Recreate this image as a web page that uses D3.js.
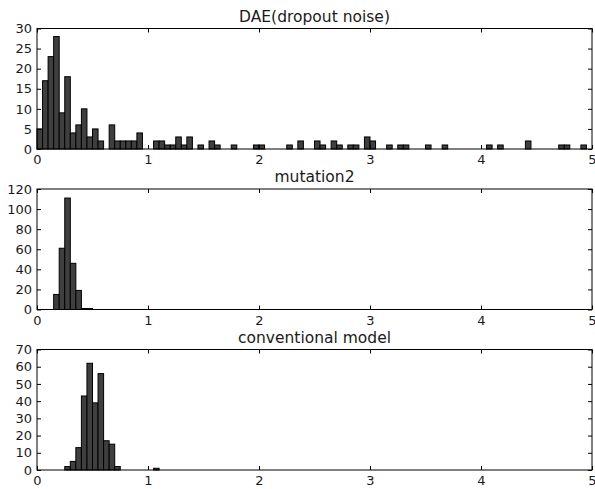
<!DOCTYPE html>
<html>
<head>
<meta charset="utf-8">
<script src="https://cdn.jsdelivr.net/npm/d3@7"></script>
<style>
  html, body { margin: 0; padding: 0; background: #fff; }
  svg { display: block; }
  text { font-family: "DejaVu Sans", sans-serif; fill: #1a1a1a; }
</style>
</head>
<body>
<svg id="chart" width="595" height="489"></svg>
<script>
// ---- Data ----
const binWidth = 0.05;
const xTicks = [0, 1, 2, 3, 4, 5];

const titles = ["DAE(dropout noise)", "mutation2", "conventional model"];

// counts per bin, bin i covers [i*0.05, (i+1)*0.05)
const daeCounts = [
  5, 17, 23, 28, 9, 18, 4, 6, 10, 3,
  5, 2, 0, 6, 2, 2, 2, 2, 4, 0,
  0, 2, 2, 1, 1, 3, 1, 3, 0, 1,
  0, 2, 1, 0, 0, 1, 0, 0, 0, 1,
  1, 0, 0, 0, 0, 1, 0, 2, 0, 0,
  2, 1, 0, 2, 1, 0, 1, 1, 0, 3,
  2, 0, 0, 1, 0, 1, 1, 0, 0, 0,
  1, 0, 0, 1, 0, 0, 0, 0, 0, 0,
  0, 1, 0, 1, 0, 0, 0, 0, 2, 0,
  0, 0, 0, 0, 1, 1, 0, 0, 1, 0
];
const mutationCounts = [0, 0, 0, 15, 61, 111, 46, 19, 1, 1];
const conventionalCounts = [
  0, 0, 0, 0, 0, 2, 5, 13, 43, 62,
  39, 56, 17, 15, 2, 0, 0, 0, 0, 0,
  0, 1
];

const yTicksDae = [0, 5, 10, 15, 20, 25, 30];
const yTicksMutation = [0, 20, 40, 60, 80, 100, 120];
const yTicksConventional = [0, 10, 20, 30, 40, 50, 60, 70];

const panels = [
  { title: titles[0], counts: daeCounts, yTicks: yTicksDae },
  { title: titles[1], counts: mutationCounts, yTicks: yTicksMutation },
  { title: titles[2], counts: conventionalCounts, yTicks: yTicksConventional }
];

// ---- Layout ----
const svg = d3.select("#chart");
const left = 37, right = 592;
const panelTop0 = 28.5, panelStep = 160.5, panelH = 120.5;

const x = d3.scaleLinear().domain([0, 5]).range([left, right]);

panels.forEach((p, i) => {
  const top = panelTop0 + i * panelStep;
  const bottom = top + panelH;
  const yMax = p.yTicks[p.yTicks.length - 1];
  const y = d3.scaleLinear().domain([0, yMax]).range([bottom, top]);
  const g = svg.append("g");

  const bins = p.counts.map((c, k) => ({ x0: k * binWidth, x1: (k + 1) * binWidth, c }))
    .filter(d => d.c > 0);

  g.selectAll("rect.bar").data(bins).join("rect")
    .attr("class", "bar")
    .attr("x", d => x(d.x0))
    .attr("width", d => x(d.x1) - x(d.x0))
    .attr("y", d => y(d.c))
    .attr("height", d => y(0) - y(d.c))
    .attr("fill", "#3f3f3f")
    .attr("stroke", "#000")
    .attr("stroke-width", 1);

  // axes: bottom with labels, ticks inward on all four sides
  const xAxis = d3.axisBottom(x).tickValues(xTicks).tickFormat(d3.format("d"))
    .tickSizeInner(-4).tickSizeOuter(0).tickPadding(6);
  const gx = g.append("g").attr("transform", `translate(0,${bottom})`).call(xAxis);
  const xTop = d3.axisTop(x).tickValues(xTicks).tickFormat("")
    .tickSizeInner(-4).tickSizeOuter(0);
  const gxt = g.append("g").attr("transform", `translate(0,${top})`).call(xTop);

  const yAxis = d3.axisLeft(y).tickValues(p.yTicks).tickFormat(d3.format("d"))
    .tickSizeInner(-4).tickSizeOuter(0).tickPadding(5);
  const gy = g.append("g").attr("transform", `translate(${left},0)`).call(yAxis);
  const yRight = d3.axisRight(y).tickValues(p.yTicks).tickFormat("")
    .tickSizeInner(-4).tickSizeOuter(0);
  const gyr = g.append("g").attr("transform", `translate(${right},0)`).call(yRight);

  [gx, gxt, gy, gyr].forEach(a => {
    a.select(".domain").remove();
    a.selectAll("line").attr("stroke", "#000");
    a.selectAll("text").attr("font-size", 13)
      .attr("font-family", "DejaVu Sans, sans-serif").attr("fill", "#1a1a1a");
  });

  // frame
  g.append("rect")
    .attr("x", left).attr("y", top)
    .attr("width", right - left).attr("height", panelH)
    .attr("fill", "none").attr("stroke", "#000").attr("stroke-width", 1);

  g.append("text")
    .attr("x", (left + right) / 2)
    .attr("y", top - 7)
    .attr("text-anchor", "middle")
    .attr("font-size", 15.5)
    .text(p.title);
});
</script>
</body>
</html>
